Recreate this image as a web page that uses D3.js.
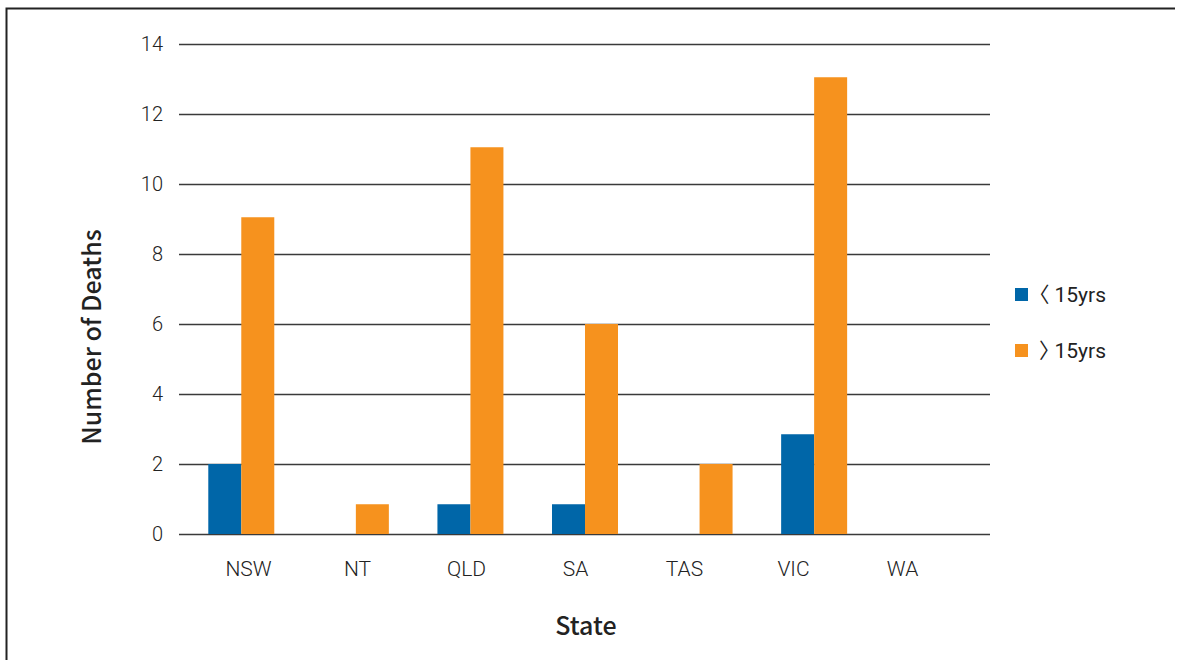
<!DOCTYPE html>
<html>
<head>
<meta charset="utf-8">
<script src="https://cdn.jsdelivr.net/npm/d3@7/dist/d3.min.js"></script>
<style>
  html, body { margin: 0; padding: 0; background: #fff; overflow: hidden; }
  svg { display: block; }
  text { font-family: "Roboto", "Liberation Sans", sans-serif; fill: #222; }
  .cjk { font-family: "Noto Sans CJK KR", sans-serif; font-feature-settings: "halt"; }
  .title { font-family: "Noto Sans CJK KR", "Noto Sans", sans-serif; }
</style>
</head>
<body>
<svg id="chart" width="1178" height="660"></svg>
<script>
// Deaths by state, split by age group
const states = ["NSW", "NT", "QLD", "SA", "TAS", "VIC", "WA"];
const seriesNames = ["\u3008 15yrs", "\u3009 15yrs"];
const under15 = [2, 0, 0.85, 0.85, 0, 2.85, 0];
const over15 = [9.05, 0.85, 11.05, 6, 2, 13.05, 0];
const yTicks = [0, 2, 4, 6, 8, 10, 12, 14];
const colors = ["#0066a8", "#f6921e"];

const svg = d3.select("#chart");

// outer frame: only the top and left edges fall inside the view
svg.append("path")
  .attr("d", "M6.5,660 V8.5 H1175")
  .attr("fill", "none").attr("stroke", "#222").attr("stroke-width", 2);

const plotLeft = 179, plotRight = 990;
const y = d3.scaleLinear().domain([0, 14]).range([534, 44]);

// grouped band scales for bars
const x0 = d3.scaleBand().domain(states).range([184, 986])
  .paddingInner(0.424).paddingOuter(0.212);
const x1 = d3.scaleBand().domain(seriesNames).range([0, x0.bandwidth()]);

// category labels sit on their own band scale
const xLabel = d3.scaleBand().domain(states).range([194, 957]);

// gridlines and y tick labels
const yAxis = d3.axisLeft(y).tickValues(yTicks)
  .tickSize(-(plotRight - plotLeft)).tickPadding(16);
const gy = svg.append("g").attr("transform", `translate(${plotLeft},0)`).call(yAxis);
gy.select(".domain").remove();
gy.selectAll(".tick line").attr("stroke", "#3a3a3a").attr("stroke-width", 1.5);
gy.selectAll(".tick text")
  .attr("font-size", 20).attr("font-weight", 300)
  .style("font-family", "Roboto, 'Liberation Sans', sans-serif")
  .attr("fill", "#222");

// bars
const rows = states.map((s, i) => ({ state: s, values: [under15[i], over15[i]] }));
const groups = svg.append("g").selectAll("g").data(rows).join("g")
  .attr("transform", d => `translate(${x0(d.state)},0)`);
groups.selectAll("rect")
  .data(d => d.values.map((v, k) => ({ key: seriesNames[k], value: v, k })))
  .join("rect")
  .attr("x", d => x1(d.key))
  .attr("width", x1.bandwidth())
  .attr("y", d => y(d.value))
  .attr("height", d => y(0) - y(d.value))
  .attr("fill", d => colors[d.k]);

// x category labels
const xAxis = d3.axisBottom(xLabel).tickSize(0).tickPadding(0);
const gx = svg.append("g").attr("transform", "translate(0,560)").call(xAxis);
gx.select(".domain").remove();
gx.selectAll(".tick text")
  .attr("font-size", 21).attr("font-weight", 300)
  .attr("dy", "0.76em")
  .style("font-family", "Roboto, 'Liberation Sans', sans-serif")
  .attr("fill", "#222");

// axis titles
svg.append("text").attr("class", "title")
  .attr("x", 586).attr("y", 635)
  .attr("text-anchor", "middle")
  .attr("font-size", 25).attr("font-weight", 500)
  .text("State");

svg.append("text").attr("class", "title")
  .attr("transform", "translate(101,337) rotate(-90)")
  .attr("text-anchor", "middle")
  .attr("font-size", 25).attr("font-weight", 500)
  .text("Number of Deaths");

// legend: bracket glyph from the CJK face, the rest in the Latin face
const legend = svg.append("g").selectAll("g").data(seriesNames).join("g")
  .attr("transform", (d, i) => `translate(1015,${288 + i * 56})`);
legend.append("rect")
  .attr("width", 13).attr("height", 13)
  .attr("fill", (d, i) => colors[i]);
const lt = legend.append("text")
  .attr("x", 24).attr("y", 14)
  .attr("font-size", 21).attr("font-weight", 400);
lt.append("tspan").attr("class", "cjk").text(d => d.split(" ")[0]);
lt.append("tspan").attr("dx", 5).text(d => d.split(" ").slice(1).join(" "));
</script>
</body>
</html>
